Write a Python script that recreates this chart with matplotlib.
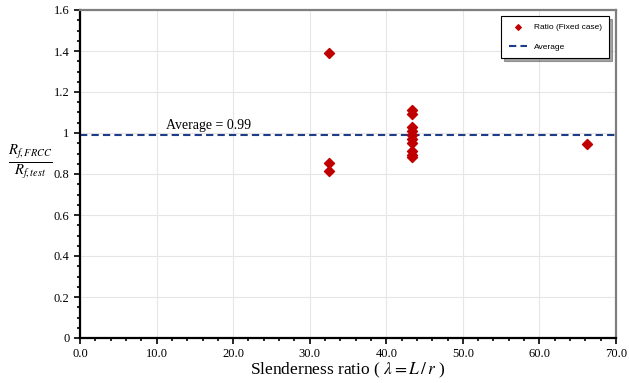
import numpy as np
import matplotlib.pyplot as plt
from matplotlib.ticker import MultipleLocator, FuncFormatter

plt.rcParams['font.family'] = ['Liberation Serif', 'DejaVu Serif']
plt.rcParams['mathtext.fontset'] = 'stix'

# slenderness ratio and strength ratio for each specimen (fixed case)
slenderness = [32.5, 32.5, 32.5,
               43.4, 43.4, 43.4, 43.4, 43.4, 43.4, 43.4, 43.4, 43.4, 43.4,
               66.2]
ratio = [1.39, 0.855, 0.815,
         1.11, 1.095, 1.03, 1.01, 0.99, 0.97, 0.95, 0.91, 0.895, 0.885,
         0.945]
average = 0.99

fig = plt.figure(figsize=(6.29, 3.83), dpi=100)
ax = fig.add_axes([80 / 629, 45 / 383, 536 / 629, 328 / 383])

ax.scatter(slenderness, ratio, marker='D', s=26, color='#C00000',
           zorder=3, label='Ratio (Fixed case)')
ax.axhline(average, color='#1F3C88', lw=1.5, ls=(0, (3.5, 2)),
           zorder=2, label='Average')
ax.text(11.2, average + 0.015, 'Average = 0.99', fontsize=10, va='bottom')

ax.set_xlim(0, 70)
ax.set_ylim(0, 1.6)
ax.xaxis.set_major_locator(MultipleLocator(10))
ax.xaxis.set_minor_locator(MultipleLocator(2))
ax.yaxis.set_major_locator(MultipleLocator(0.2))
ax.yaxis.set_minor_locator(MultipleLocator(0.05))
ax.xaxis.set_major_formatter(FuncFormatter(lambda v, p: f'{v:.1f}'))
ax.yaxis.set_major_formatter(FuncFormatter(lambda v, p: f'{v:g}'))
ax.tick_params(which='both', direction='out', labelsize=9, width=1.2)
ax.tick_params(which='major', length=4)
ax.tick_params(which='minor', length=2.5)
ax.grid(True, which='major', color='#E6E6E6', lw=0.8)
ax.set_axisbelow(True)

for side in ['left', 'bottom']:
    ax.spines[side].set_linewidth(1.6)
    ax.spines[side].set_color('black')
for side in ['top', 'right']:
    ax.spines[side].set_linewidth(1.6)
    ax.spines[side].set_color('#7F7F7F')

ax.set_xlabel(r'Slenderness ratio ( $\lambda = L\,/\,r$ )', fontsize=12.5, labelpad=0)
ax.yaxis.set_label_coords(-50 / 536, 0.535)
ax.set_ylabel(r'$\frac{R_{f,FRCC}}{R_{f,test}}$', fontsize=15, rotation=0,
              va='center', ha='center')

leg = ax.legend(loc='upper right', frameon=True, fancybox=False,
                shadow=True, borderpad=0.9, labelspacing=1.4,
                handlelength=2.2, markerscale=0.55,
                prop={'family': 'Liberation Sans', 'size': 6},
                bbox_to_anchor=(0.995, 0.995))
leg.get_frame().set_edgecolor('black')
leg.get_frame().set_linewidth(0.8)

fig.savefig('out.png', dpi=100)
